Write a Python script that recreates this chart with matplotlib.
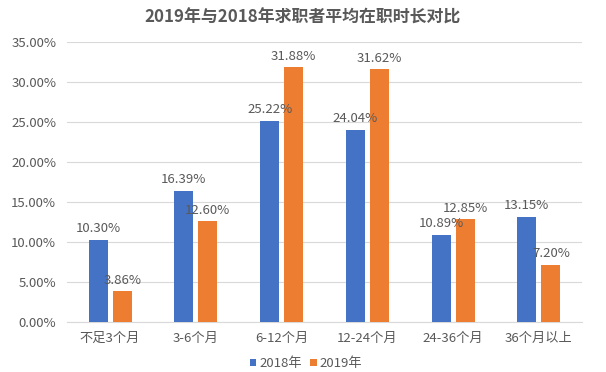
import numpy as np
import matplotlib.pyplot as plt
from matplotlib.ticker import PercentFormatter

plt.rcParams['font.family'] = ['Noto Sans CJK SC', 'DejaVu Sans']

categories = ['不足3个月', '3-6个月', '6-12个月', '12-24个月', '24-36个月', '36个月以上']
y2018 = [10.30, 16.39, 25.22, 24.04, 10.89, 13.15]
y2019 = [3.86, 12.60, 31.88, 31.62, 12.85, 7.20]
series_names = ['2018年', '2019年']

blue = '#4472C4'
orange = '#ED7D31'
text_c = '#595959'

fig = plt.figure(figsize=(6.06, 3.72), dpi=100)
ax = fig.add_axes([0.111, 0.134, 0.849, 0.752])

x = np.arange(len(categories))
w = 0.222
b1 = ax.bar(x - 0.14, y2018, w, color=blue, label=series_names[0], zorder=3)
b2 = ax.bar(x + 0.14, y2019, w, color=orange, label=series_names[1], zorder=3)

for bars in (b1, b2):
    for r in bars:
        ax.text(r.get_x() + r.get_width() / 2, r.get_height() + 0.6,
                f'{r.get_height():.2f}%', ha='center', va='bottom',
                fontsize=9.5, color=text_c)

ax.set_ylim(0, 35)
ax.set_yticks(np.arange(0, 35.1, 5))
ax.yaxis.set_major_formatter(PercentFormatter(decimals=2))
ax.set_xlim(-0.5, len(categories) - 0.5)
ax.set_xticks(x)
ax.set_xticklabels(categories)
ax.tick_params(axis='both', length=0, labelsize=9.5, colors=text_c)
ax.tick_params(axis='x', pad=7)
ax.tick_params(axis='y', pad=8)
ax.grid(axis='y', color='#D9D9D9', linewidth=0.8, zorder=0)
for s in ('top', 'right', 'left'):
    ax.spines[s].set_visible(False)
ax.spines['bottom'].set_color('#D9D9D9')

fig.suptitle('2019年与2018年求职者平均在职时长对比', y=0.978, fontsize=12.2,
             fontweight='bold', color=text_c)
fig.legend(loc='center', bbox_to_anchor=(0.505, 0.022), ncol=2, frameon=False,
           fontsize=9.5, handlelength=0.5, handleheight=0.5, handletextpad=0.25,
           columnspacing=0.6, labelcolor=text_c)

fig.savefig('out.png', dpi=100)
